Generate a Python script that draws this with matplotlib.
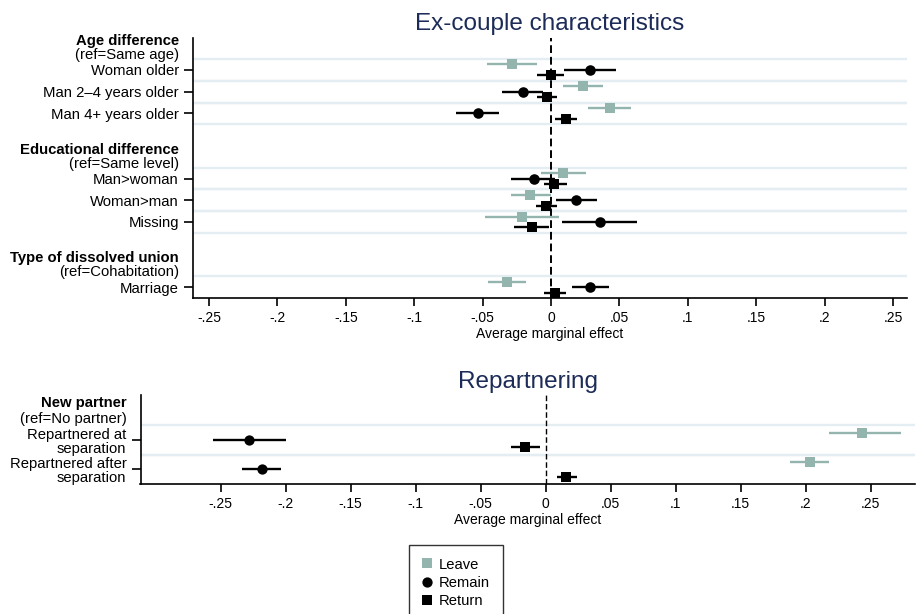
import numpy as np
import matplotlib
matplotlib.use("Agg")
import matplotlib.pyplot as plt
from matplotlib.lines import Line2D

plt.rcParams['font.family'] = ['Liberation Sans', 'DejaVu Sans']

# --- Ex-couple characteristics (top panel) ---
top_groups = [
    ("Age difference", "(ref=Same age)", ["Woman older", "Man 2–4 years older", "Man 4+ years older"]),
    ("Educational difference", "(ref=Same level)", ["Man>woman", "Woman>man", "Missing"]),
    ("Type of dissolved union", "(ref=Cohabitation)", ["Marriage"]),
]

top_leave = [-0.0287, 0.0232, 0.0429, 0.0090, -0.0151, -0.0214, -0.0324]
top_leave_lo = [-0.0470, 0.0090, 0.0273, -0.0073, -0.0295, -0.0482, -0.0458]
top_leave_hi = [-0.0105, 0.0382, 0.0583, 0.0256, -0.0002, 0.0058, -0.0185]

top_remain = [0.0288, -0.0207, -0.0536, -0.0122, 0.0180, 0.0356, 0.0288]
top_remain_lo = [0.0097, -0.0356, -0.0694, -0.0290, 0.0037, 0.0083, 0.0151]
top_remain_hi = [0.0477, -0.0060, -0.0378, 0.0030, 0.0334, 0.0630, 0.0426]

top_return = [0.0000, -0.0030, 0.0107, 0.0024, -0.0039, -0.0141, 0.0032]
top_return_lo = [-0.0102, -0.0105, 0.0030, -0.0051, -0.0112, -0.0270, -0.0050]
top_return_hi = [0.0097, 0.0042, 0.0188, 0.0115, 0.0042, -0.0015, 0.0110]

# --- Repartnering (bottom panel) ---
bot_groups = [
    ("New partner", "(ref=No partner)", ["Repartnered at\nseparation", "Repartnered after\nseparation"]),
]

bot_leave = [0.2436, 0.2030]
bot_leave_lo = [0.2175, 0.1878]
bot_leave_hi = [0.2730, 0.2180]

bot_remain = [-0.2284, -0.2185]
bot_remain_lo = [-0.2563, -0.2333]
bot_remain_hi = [-0.1995, -0.2036]

bot_return = [-0.0158, 0.0158]
bot_return_lo = [-0.0267, 0.0090]
bot_return_hi = [-0.0045, 0.0243]

tick_vals = [-0.25, -0.2, -0.15, -0.1, -0.05, 0, 0.05, 0.1, 0.15, 0.2, 0.25]
tick_labels = ["-.25", "-.2", "-.15", "-.1", "-.05", "0", ".05", ".1", ".15", ".2", ".25"]

leave_col = '#93b5ad'
grid_col = '#e4edf1'
title_col = '#1c2b57'


def row_positions(groups):
    pos, first = [], []
    y = 1
    for _, _, rows in groups:
        first.append(y)
        for _ in rows:
            pos.append(y)
            y += 1
        y += 2
    return pos, first


def draw_panel(ax, groups, series, title, ylim, xlim, head_dy, zero_lw, title_pad):
    pos, first = row_positions(groups)
    pos = np.array(pos, dtype=float)
    labels = [r for g in groups for r in g[2]]

    for p in pos:
        for b in (p - 0.5, p + 0.5):
            if b < ylim[0] - 0.01:
                ax.axhline(b, color=grid_col, lw=1.7, zorder=0)

    ax.axvline(0, color='black', lw=zero_lw, ls=(0, (4, 2)), zorder=1)

    for (b, lo, hi, off, col, mk, ms) in series:
        y = pos + off
        ax.hlines(y, lo, hi, color=col, lw=1.7, zorder=2)
        ax.plot(b, y, ls='none', marker=mk, color=col, ms=ms, mew=0, zorder=3)

    ax.set_yticks(pos)
    ax.set_yticklabels(labels, fontsize=10.7, linespacing=1.0)
    ax.set_ylim(*ylim)
    ax.set_xlim(*xlim)
    ax.set_xticks(tick_vals)
    ax.set_xticklabels(tick_labels, fontsize=10)
    ax.set_xlabel("Average marginal effect", fontsize=10, labelpad=1.5)
    ax.tick_params(axis='y', length=6.5, width=1.2, pad=3.6)
    ax.tick_params(axis='x', length=6, width=1.2, pad=3.5)
    for s in ('top', 'right'):
        ax.spines[s].set_visible(False)
    for s in ('left', 'bottom'):
        ax.spines[s].set_linewidth(1.2)
    ax.set_title(title, fontsize=17.5, color=title_col, pad=title_pad)

    for (head, ref, _), y0 in zip(groups, first):
        ax.annotate(head, xy=(0, y0), xycoords=ax.get_yaxis_transform(),
                    xytext=(-10.1, head_dy[0]), textcoords='offset points',
                    ha='right', va='center', fontsize=10.7, fontweight='bold')
        ax.annotate(ref, xy=(0, y0), xycoords=ax.get_yaxis_transform(),
                    xytext=(-10.1, head_dy[1]), textcoords='offset points',
                    ha='right', va='center', fontsize=10.7)


fig = plt.figure(figsize=(9.17, 6.14), dpi=100)
ax1 = fig.add_axes([193 / 917, 1 - 298 / 614, (907 - 193) / 917, (298 - 38) / 614])
ax2 = fig.add_axes([140.5 / 917, 1 - 484 / 614, (915 - 140.5) / 917, (484 - 395) / 614])

top_series = [
    (top_leave, top_leave_lo, top_leave_hi, -0.25, leave_col, 's', 7.4),
    (top_remain, top_remain_lo, top_remain_hi, 0.0, 'black', 'o', 7.6),
    (top_return, top_return_lo, top_return_hi, 0.25, 'black', 's', 7.4),
]
bot_series = [
    (bot_leave, bot_leave_lo, bot_leave_hi, -0.25, leave_col, 's', 7.4),
    (bot_remain, bot_remain_lo, bot_remain_hi, 0.0, 'black', 'o', 7.4),
    (bot_return, bot_return_lo, bot_return_hi, 0.25, 'black', 's', 7.2),
]

draw_panel(ax1, top_groups, top_series, "Ex-couple characteristics",
           (11.5, -0.47), (-0.2617, 0.2602), (20.9, 10.8), 1.4, 6)
draw_panel(ax2, bot_groups, bot_series, "Repartnering",
           (2.5, -0.535), (-0.3117, 0.284), (26.6, 15.1), 1.0, 5)

handles = [
    Line2D([], [], ls='none', marker='s', color=leave_col, ms=7.4, mew=0, label='Leave'),
    Line2D([], [], ls='none', marker='o', color='black', ms=7.4, mew=0, label='Remain'),
    Line2D([], [], ls='none', marker='s', color='black', ms=7.2, mew=0, label='Return'),
]
leg = fig.legend(handles=handles, loc='upper left', bbox_to_anchor=(409 / 917, 1 - 545 / 614),
                 borderaxespad=0, frameon=True, fancybox=False, edgecolor='black',
                 fontsize=10.6, handlelength=0.7, handletextpad=0.5, borderpad=0.85,
                 labelspacing=0.3)
leg.get_frame().set_linewidth(1.0)

fig.savefig("out.png", dpi=100)
